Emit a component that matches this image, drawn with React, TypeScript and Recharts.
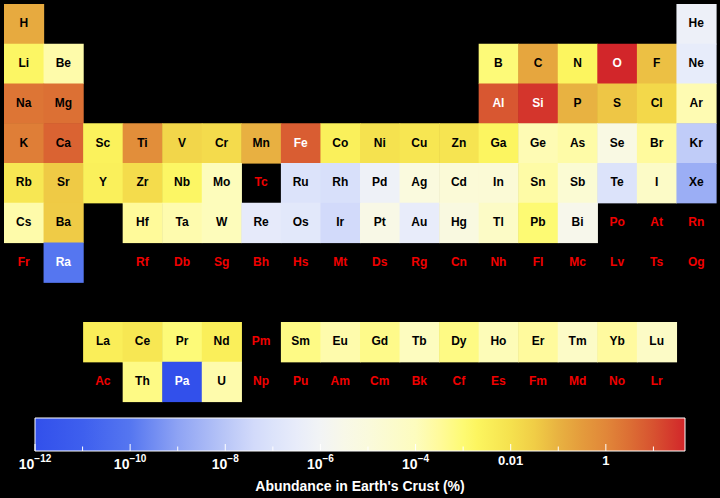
import { ReferenceArea, Scatter, ScatterChart, XAxis, YAxis } from "recharts";

// element symbols by atomic number
const symbols = [
  "H", "He", "Li", "Be", "B", "C", "N", "O", "F", "Ne",
  "Na", "Mg", "Al", "Si", "P", "S", "Cl", "Ar", "K", "Ca",
  "Sc", "Ti", "V", "Cr", "Mn", "Fe", "Co", "Ni", "Cu", "Zn",
  "Ga", "Ge", "As", "Se", "Br", "Kr", "Rb", "Sr", "Y", "Zr",
  "Nb", "Mo", "Tc", "Ru", "Rh", "Pd", "Ag", "Cd", "In", "Sn",
  "Sb", "Te", "I", "Xe", "Cs", "Ba", "La", "Ce", "Pr", "Nd",
  "Pm", "Sm", "Eu", "Gd", "Tb", "Dy", "Ho", "Er", "Tm", "Yb",
  "Lu", "Hf", "Ta", "W", "Re", "Os", "Ir", "Pt", "Au", "Hg",
  "Tl", "Pb", "Bi", "Po", "At", "Rn", "Fr", "Ra", "Ac", "Th",
  "Pa", "U", "Np", "Pu", "Am", "Cm", "Bk", "Cf", "Es", "Fm",
  "Md", "No", "Lr", "Rf", "Db", "Sg", "Bh", "Hs", "Mt", "Ds",
  "Rg", "Cn", "Nh", "Fl", "Mc", "Lv", "Ts", "Og",
];

// abundance in Earth's crust (%), null = no data
const abundance: (number | null)[] = [
  0.15, 5.5e-7, 0.0017, 0.00019, 0.00087, 0.18, 0.002, 46, 0.054, 3e-7,
  2.3, 2.9, 8.1, 27, 0.099, 0.042, 0.017, 0.00015, 1.5, 5.0,
  0.0026, 0.66, 0.019, 0.014, 0.11, 6.3, 0.003, 0.009, 0.0068, 0.0078,
  0.0019, 0.00014, 0.00021, 5e-6, 0.0003, 1.5e-8, 0.006, 0.036, 0.0029, 0.013,
  0.0017, 0.00011, null, 9.9e-8, 7e-8, 6.3e-7, 7.9e-6, 1.5e-5, 1.6e-5, 0.00022,
  2e-5, 9.9e-8, 4.9e-5, 2e-9, 0.00019, 0.034, 0.0034, 0.006, 0.00087, 0.0033,
  null, 0.0006, 0.00018, 0.00052, 9.4e-5, 0.00062, 0.00012, 0.0003, 5.2e-5, 0.00028,
  5.6e-5, 0.00033, 0.00017, 0.00011, 2.6e-7, 1.8e-7, 4e-8, 3.7e-6, 3.1e-7, 6.7e-6,
  5.3e-5, 0.001, 2.5e-6, null, null, null, null, 9.9e-11, null, 0.0006,
  1e-12, 0.00018, null, null, null, null, null, null, null, null,
  null, null, null, null, null, null, null, null, null, null,
  null, null, null, null, null, null, null, null,
];

// colour bar
const logMin = -12;
const logMax = 1.664;
const tickValues = [-12, -10, -8, -6, -4, -2, 0];
const tickLabels = ["10^−12", "10^−10", "10^−8", "10^−6", "10^−4", "0.01", "1"];
const decades = [-12, -11, -10, -9, -8, -7, -6, -5, -4, -3, -2, -1, 0, 1];

// colour map stops: log10(%) -> rgb
const colorStops: Array<[number, [number, number, number]]> = [
  [-12, [50, 80, 235]],
  [-11, [62, 95, 238]],
  [-10, [85, 118, 240]],
  [-9, [142, 163, 244]],
  [-8, [185, 198, 247]],
  [-7.4, [210, 218, 250]],
  [-7, [220, 227, 250]],
  [-6.5, [232, 236, 250]],
  [-6, [242, 244, 245]],
  [-5.5, [248, 248, 232]],
  [-5, [250, 250, 220]],
  [-4, [253, 252, 190]],
  [-3.5, [255, 250, 155]],
  [-3, [253, 250, 115]],
  [-2.7, [252, 245, 95]],
  [-2, [245, 225, 78]],
  [-1.5, [240, 205, 70]],
  [-1, [232, 178, 65]],
  [-0.5, [228, 155, 60]],
  [0, [225, 135, 57]],
  [0.5, [220, 110, 52]],
  [1, [215, 82, 48]],
  [1.664, [210, 38, 42]],
];

const FONT = "'Liberation Sans', Arial, Helvetica, sans-serif";
const W = 720;
const MAIN_H = 405;
const CELL_W = (W - 8) / 18;
const CELL_H = (MAIN_H - 4 - 3.5) / 10;

function rgb(c: number[]) {
  return `rgb(${c.map((v) => Math.round(v)).join(",")})`;
}

function colorFor(v: number) {
  const t = Math.max(logMin, Math.min(logMax, Math.log10(v)));
  for (let i = 1; i < colorStops.length; i++) {
    const [t1, c1] = colorStops[i];
    if (t <= t1) {
      const [t0, c0] = colorStops[i - 1];
      const f = (t - t0) / (t1 - t0);
      return rgb(c0.map((a, k) => a + (c1[k] - a) * f));
    }
  }
  return rgb(colorStops[colorStops.length - 1][1]);
}

// periodic table position [column, row]; rows 9/10 are the f-block
function place(z: number): [number, number] {
  if (z === 1) return [1, 1];
  if (z === 2) return [18, 1];
  if (z <= 10) return [z <= 4 ? z - 2 : z + 8, 2];
  if (z <= 18) return [z <= 12 ? z - 10 : z, 3];
  if (z <= 36) return [z - 18, 4];
  if (z <= 54) return [z - 36, 5];
  if (z <= 56) return [z - 54, 6];
  if (z <= 71) return [z - 54, 9];
  if (z <= 86) return [z - 68, 6];
  if (z <= 88) return [z - 86, 7];
  if (z <= 103) return [z - 86, 10];
  return [z - 100, 7];
}

const cells = symbols.map((symbol, i) => {
  const [col, row] = place(i + 1);
  const value = abundance[i];
  return {
    symbol,
    col,
    row,
    value,
    fill: value == null ? "none" : colorFor(value),
    textColor: value == null ? "#f00000" : value > 5.5 || value < 1e-9 ? "#ffffff" : "#000000",
  };
});

const tickData = decades.map((d) => ({ x: d, y: 0, major: d % 2 === 0 }));

const ElementCell = (props: any) => {
  const { cx, cy, payload } = props;
  return (
    <g>
      {payload.value != null && (
        <rect
          x={cx - CELL_W / 2}
          y={cy - CELL_H / 2}
          width={CELL_W + 0.6}
          height={CELL_H + 0.6}
          fill={payload.fill}
        />
      )}
      <text
        x={cx}
        y={cy + 3.5}
        textAnchor="middle"
        fontSize={12}
        fontWeight="bold"
        fontFamily={FONT}
        fill={payload.textColor}
      >
        {payload.symbol}
      </text>
    </g>
  );
};

const BarTick = (props: any) => {
  const { cx, cy, payload } = props;
  const len = payload.major ? 7 : 4.5;
  return <line x1={cx} x2={cx} y1={cy} y2={cy - len} stroke="#fff" strokeWidth={1} />;
};

const PowerTick = (props: any) => {
  const { x, payload } = props;
  const label = tickLabels[tickValues.indexOf(payload.value)] ?? "";
  const [base, exp] = label.split("^");
  if (exp == null) {
    return (
      <text x={x} y={55} textAnchor="middle" fontSize={13} fontWeight="bold" fontFamily={FONT} fill="#fff">
        {base}
      </text>
    );
  }
  return (
    <text x={x} y={59} textAnchor="middle" fontSize={14} fontWeight="bold" fontFamily={FONT} fill="#fff">
      {base}
      <tspan dy={-7} fontSize={10}>
        {exp}
      </tspan>
    </text>
  );
};

export default function App() {
  return (
    <div
      style={{
        position: "absolute",
        left: 0,
        top: 0,
        width: W,
        height: 498,
        background: "#000",
        fontFamily: FONT,
      }}
    >
      <div style={{ position: "absolute", left: 0, top: 0 }}>
        <ScatterChart width={W} height={MAIN_H} margin={{ top: 4, right: 4, bottom: 3.5, left: 4 }}>
          <XAxis type="number" dataKey="col" domain={[0.5, 18.5]} hide height={0} />
          <YAxis type="number" dataKey="row" domain={[0.5, 10.5]} reversed hide width={0} />
          <Scatter data={cells} shape={ElementCell} isAnimationActive={false} />
        </ScatterChart>
      </div>
      <div style={{ position: "absolute", left: 0, top: 410 }}>
        <ScatterChart width={W} height={88} margin={{ top: 8, right: 35, bottom: 0, left: 35 }}>
          <defs>
            <linearGradient id="cbGrad" x1="0" x2="1" y1="0" y2="0">
              {colorStops.map(([t, c]) => (
                <stop key={t} offset={(t - logMin) / (logMax - logMin)} stopColor={rgb(c)} />
              ))}
            </linearGradient>
          </defs>
          <XAxis
            type="number"
            dataKey="x"
            domain={[logMin, logMax]}
            ticks={tickValues}
            tick={<PowerTick />}
            tickLine={false}
            axisLine={false}
            height={47}
            interval={0}
            label={{
              value: "Abundance in Earth's Crust (%)",
              position: "insideBottom",
              offset: 7,
              fill: "#fff",
              fontSize: 14,
              fontWeight: "bold",
              fontFamily: FONT,
            }}
          />
          <YAxis type="number" dataKey="y" domain={[0, 1]} hide width={0} />
          <ReferenceArea
            x1={logMin}
            x2={logMax}
            y1={0}
            y2={1}
            fill="url(#cbGrad)"
            fillOpacity={1}
            stroke="#fff"
            strokeWidth={1}
          />
          <Scatter data={tickData} shape={BarTick} isAnimationActive={false} />
        </ScatterChart>
      </div>
    </div>
  );
}
